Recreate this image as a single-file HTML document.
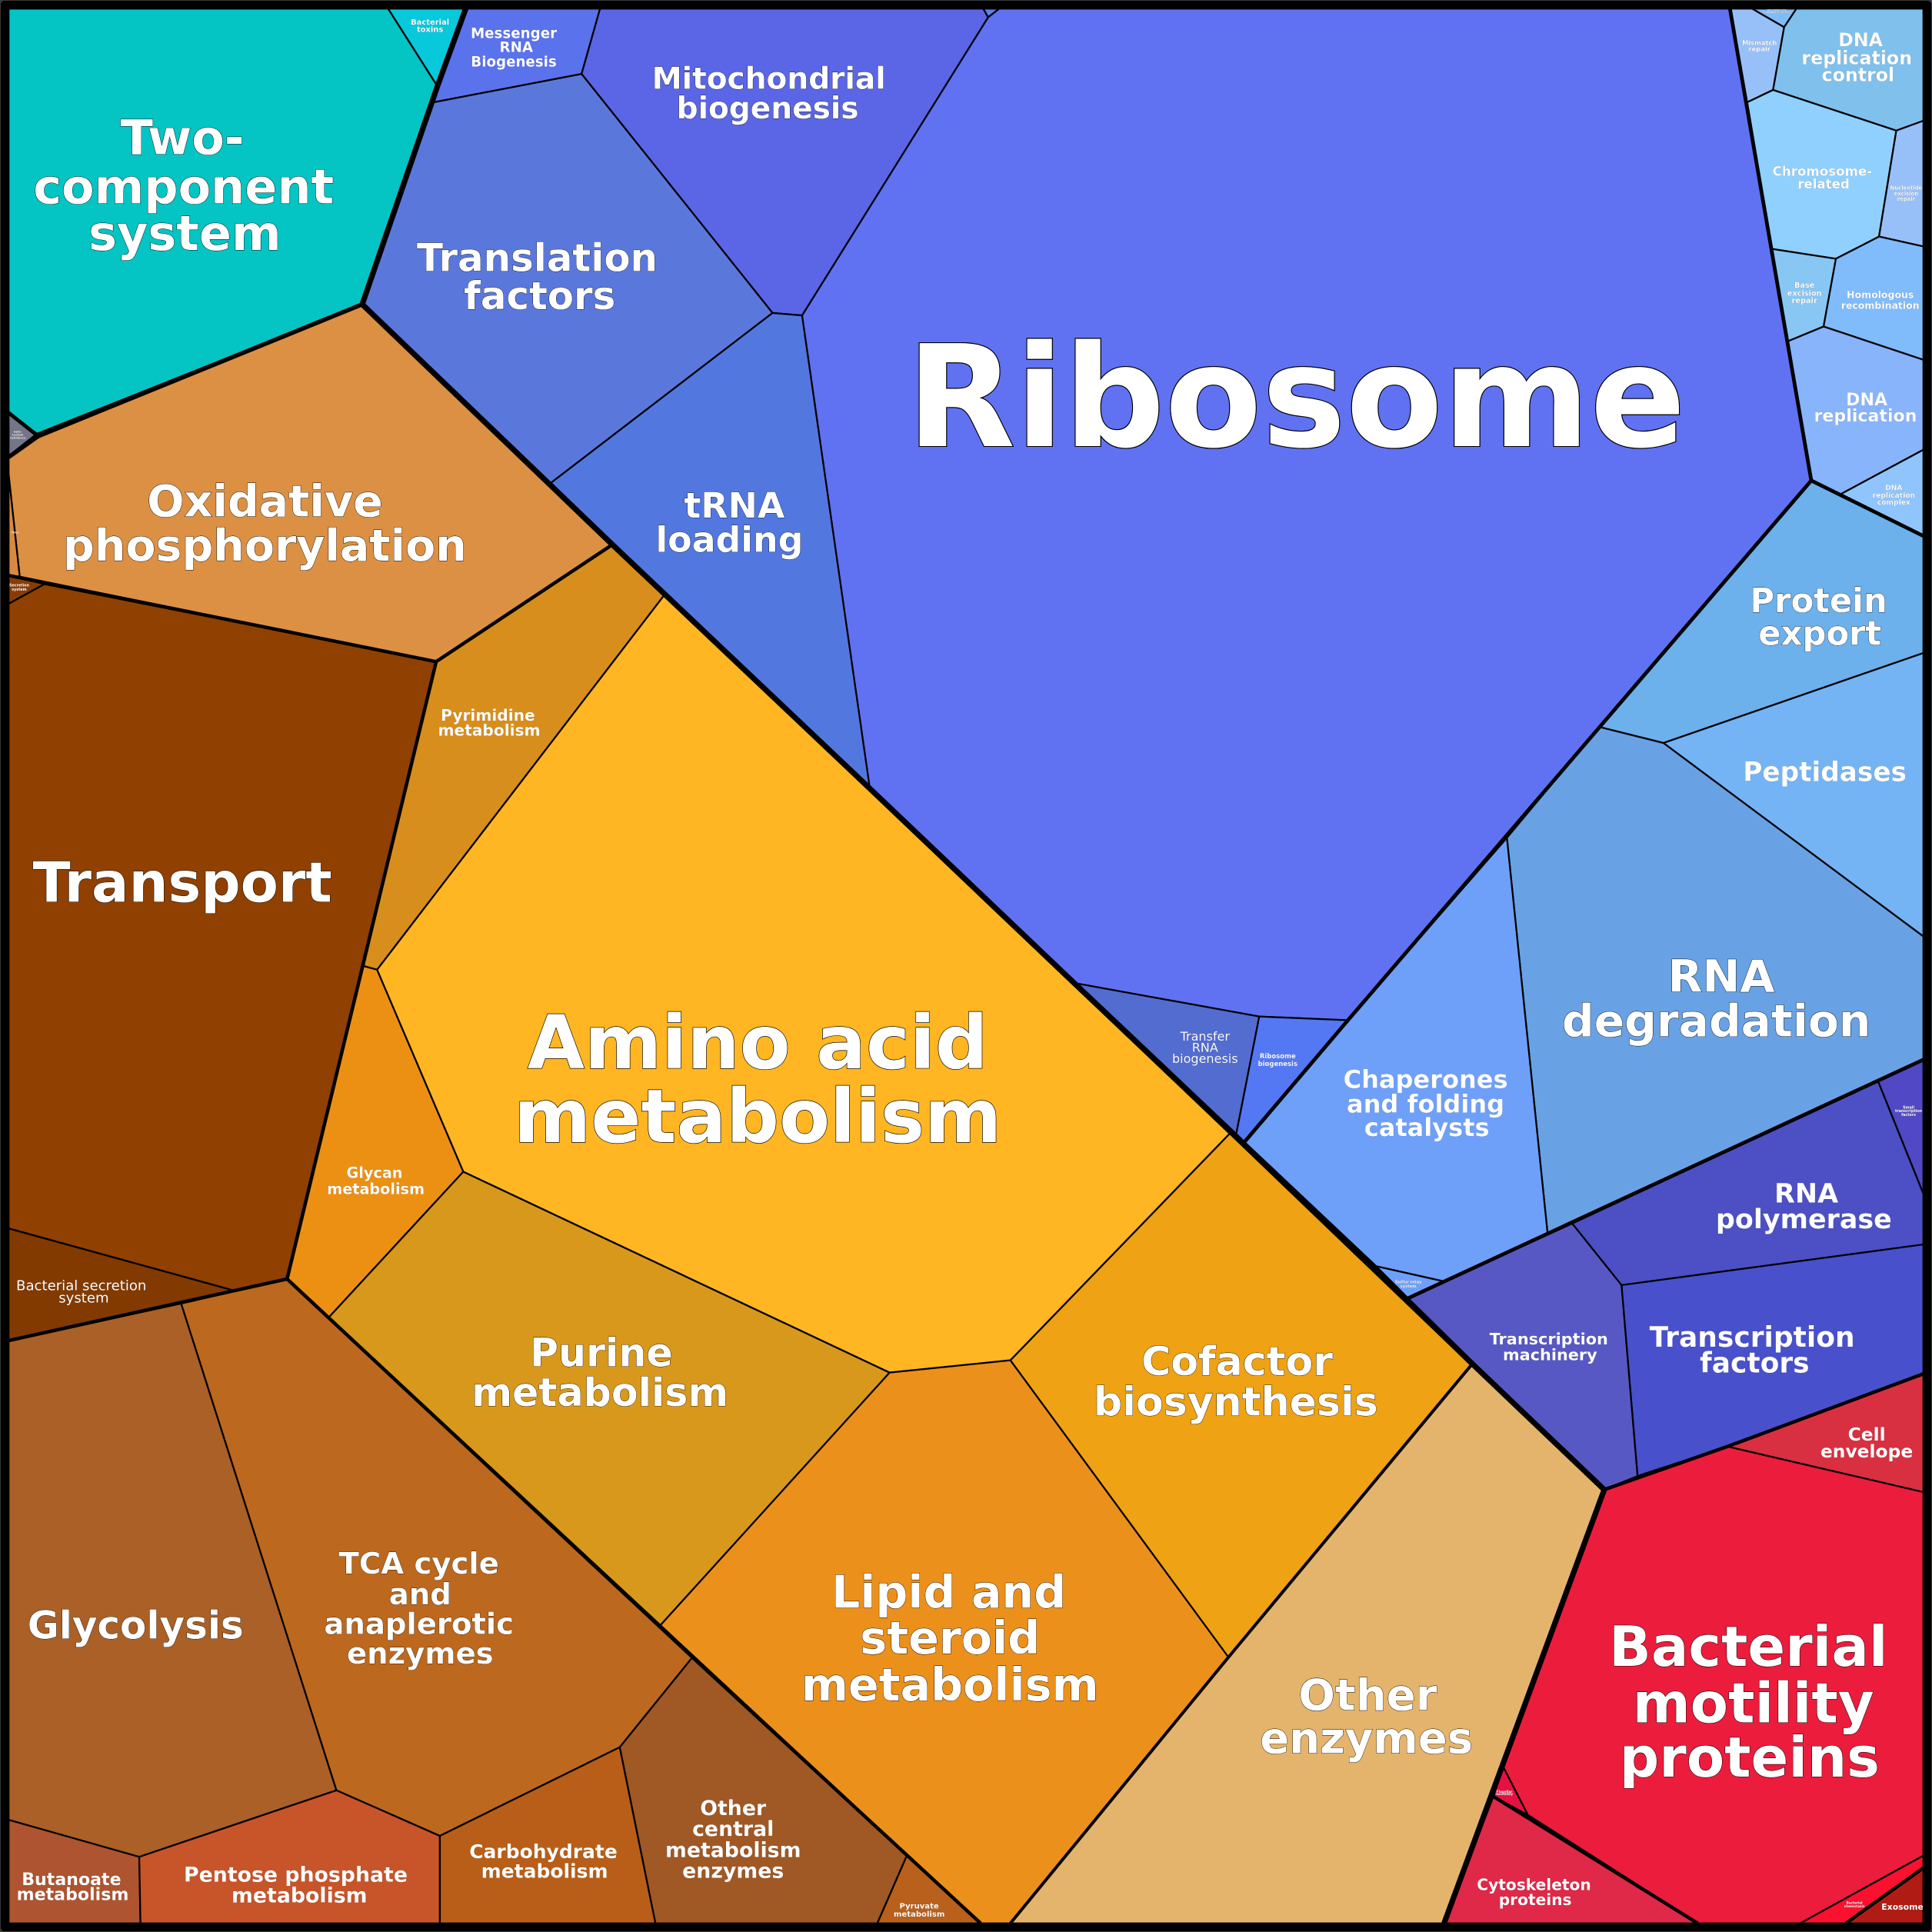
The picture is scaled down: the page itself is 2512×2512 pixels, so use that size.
<!DOCTYPE html>
<html lang="en"><head><meta charset="utf-8"><title>Proteomap</title>
<style>
html,body{margin:0;padding:0;background:#3a3a3a;width:2512px;height:2512px;overflow:hidden}
svg{display:block;width:2512px;height:2512px}
.c polygon{stroke:#000;stroke-width:1.4;stroke-linejoin:round}
.l polyline{fill:none;stroke:#000;stroke-linejoin:round;stroke-linecap:butt}
text{font-family:"DejaVu Sans","Liberation Sans",sans-serif;font-weight:700;fill:#fff;text-anchor:middle}
.t1 text{stroke:#000;stroke-width:.012em;paint-order:stroke}
.t1{filter:drop-shadow(.7px .7px 0 #000)}
.t2{filter:drop-shadow(.6px .6px 0 #000)}
.t3{filter:drop-shadow(.45px .45px 0 #000)}
.t4{filter:drop-shadow(.2px .2px 0 #000)}
.r{font-weight:400}
</style></head><body>
<svg xmlns="http://www.w3.org/2000/svg" viewBox="0 0 1568 1568">
<g class="c">
<polygon fill="#04c4c4" points="7,7 315,7 355,70 294,247 30,352 7,335"/>
<polygon fill="#08c8dc" points="315,7 378,7 355,70"/>
<polygon fill="#75758a" points="7,335 30,352 7,370"/>
<polygon fill="#5a72ec" points="378,7 487,7 472,60 352,83"/>
<polygon fill="#5a66e6" points="487,7 798,7 802,14 651,256 627,254 472,60"/>
<polygon fill="#5a80f0" points="798,7 811,7 802,14"/>
<polygon fill="#5a78dc" points="352,83 472,60 627,254 447,392 294,247"/>
<polygon fill="#5278e0" points="627,254 651,256 706,640 447,392"/>
<polygon fill="#6072f2" points="802,14 811,7 1404,7 1470,390 1094,828 1022,825 873,798 706,640 651,256"/>
<polygon fill="#526cd0" points="873,798 1022,825 1003,922"/>
<polygon fill="#5478f4" points="1022,825 1094,828 1009,928 1003,922"/>
<polygon fill="#98c0f8" points="1404,7 1422,7 1448,22 1439,73 1418,83"/>
<polygon fill="#80bcf8" points="1422,7 1458,7 1448,22"/>
<polygon fill="#80c0ec" points="1458,7 1561,7 1561,98 1539,106 1439,73 1448,22"/>
<polygon fill="#90d0fe" points="1418,83 1439,73 1539,106 1525,192 1490,210 1438,202"/>
<polygon fill="#98c0f8" points="1539,106 1561,98 1561,200 1525,192"/>
<polygon fill="#88c6f4" points="1438,202 1490,210 1480,265 1451,277"/>
<polygon fill="#80bcfc" points="1490,210 1525,192 1561,200 1561,292 1480,265"/>
<polygon fill="#88b4fc" points="1451,277 1480,265 1561,292 1561,365 1494,401 1470,390"/>
<polygon fill="#90c4fc" points="1494,401 1561,365 1561,435"/>
<polygon fill="#6cb0ec" points="1470,390 1561,435 1561,530 1350,603 1298,590"/>
<polygon fill="#74b4f4" points="1350,603 1561,530 1561,760"/>
<polygon fill="#68a2e4" points="1298,590 1350,603 1561,760 1561,860 1524,877 1276,993 1256,1001 1223,680"/>
<polygon fill="#6ea0fa" points="1223,680 1256,1001 1172,1040 1114,1027 1009,928 1094,828"/>
<polygon fill="#6ea0fa" points="1114,1027 1172,1040 1142,1054"/>
<polygon fill="#5048c4" points="1524,877 1561,860 1561,969"/>
<polygon fill="#4c50c4" points="1276,993 1524,877 1561,969 1561,1010 1316,1043"/>
<polygon fill="#4850cc" points="1316,1043 1561,1010 1561,1115 1402,1174 1329,1198"/>
<polygon fill="#5858c4" points="1142,1054 1276,993 1316,1043 1329,1198 1302,1209 1194,1108"/>
<polygon fill="#d83040" points="1402,1174 1561,1115 1561,1211"/>
<polygon fill="#ec1c3c" points="1302,1209 1329,1198 1402,1174 1561,1211 1561,1506 1461,1561 1378,1561 1240,1473 1220,1434"/>
<polygon fill="#e81040" points="1220,1434 1240,1473 1212,1458"/>
<polygon fill="#e02848" points="1212,1458 1240,1473 1378,1561 1172,1561"/>
<polygon fill="#fc1030" points="1561,1506 1561,1516 1498,1561 1461,1561"/>
<polygon fill="#b01c14" points="1561,1516 1561,1561 1498,1561"/>
<polygon fill="#e4b46c" points="1194,1108 1302,1209 1172,1561 820,1561 997,1345"/>
<polygon fill="#eea214" points="998,920 1194,1108 997,1345 820,1104"/>
<polygon fill="#ffb622" points="539,483 998,920 820,1104 722,1114 376,951 306,787"/>
<polygon fill="#d88e1c" points="497,442 539,483 306,787 295,784 354,537"/>
<polygon fill="#dc9044" points="31,354 294,247 497,442 354,537 16,468 7,385 7,371"/>
<polygon fill="#d88840" points="7,385 16,468 7,467"/>
<polygon fill="#904000" points="36,474 354,537 295,784 233,1038 192,1048 7,997 7,490"/>
<polygon fill="#8a3c04" points="7,467 36,474 7,490"/>
<polygon fill="#823a00" points="7,997 192,1048 7,1088"/>
<polygon fill="#ec9014" points="295,784 306,787 376,951 267,1069 233,1038"/>
<polygon fill="#d8981c" points="376,951 722,1114 536,1319 267,1069"/>
<polygon fill="#ec901c" points="722,1114 820,1104 997,1345 820,1561 796,1561 536,1319"/>
<polygon fill="#bc681e" points="147,1058 233,1038 562,1345 503,1418 357,1490 273,1453"/>
<polygon fill="#aa6026" points="7,1088 147,1058 273,1453 113,1507 7,1477"/>
<polygon fill="#ae5430" points="7,1477 113,1507 114,1561 7,1561"/>
<polygon fill="#c8542a" points="113,1507 273,1453 357,1490 357,1561 114,1561"/>
<polygon fill="#b85e18" points="357,1490 503,1418 532,1561 357,1561"/>
<polygon fill="#a05824" points="503,1418 562,1345 736,1506 712,1561 532,1561"/>
<polygon fill="#b8601c" points="736,1506 796,1561 712,1561"/>
</g>
<g class="l">
<polyline stroke-width="4.5" points="378,7 355,70 294,247 497,442 706,640 873,799 1003,922 1009,928 1114,1027 1141,1054 1194,1106 1302,1209 1172,1561"/>
<polyline stroke-width="3.5" points="294,247 31,354 7,371"/>
<polyline stroke-width="3" points="7,335 31,354"/>
<polyline stroke-width="3" points="1404,7 1470,390 1094,828 1009,928"/>
<polyline stroke-width="3" points="1470,390 1561,435"/>
<polyline stroke-width="3" points="1142,1054 1561,860"/>
<polyline stroke-width="2.8" points="1302,1209 1402,1174 1561,1115"/>
<polyline stroke-width="2.8" points="497,442 354,537 7,467"/>
<polyline stroke-width="2.8" points="354,537 233,1038 7,1088"/>
<polyline stroke-width="2.8" points="233,1038 562,1345 796,1561"/>
<polyline stroke-width="2.5" points="1194,1108 997,1345 820,1561"/>
<polyline stroke-width="2.8" points="1212,1458 1378,1561"/>
<polyline stroke-width="2.8" points="1561,1516 1498,1561"/>
</g>
<g class="t1">
<text font-size="114.6" x="1052" y="362">Ribosome</text>
<text font-size="60"><tspan x="615" y="867">Amino acid</tspan><tspan x="615" y="927">metabolism</tspan></text>
<text font-size="44.9"><tspan x="1419" y="1352">Bacterial</tspan><tspan x="1423" y="1398">motility</tspan><tspan x="1420" y="1442">proteins</tspan></text>
<text font-size="44.8" x="148" y="732">Transport</text>
<text font-size="38.7"><tspan x="148" y="125">Two-</tspan><tspan x="149" y="165">component</tspan><tspan x="150" y="203">system</tspan></text>
<text font-size="36.6"><tspan x="770" y="1305">Lipid and</tspan><tspan x="771" y="1342">steroid</tspan><tspan x="771" y="1380">metabolism</tspan></text>
<text font-size="36.4"><tspan x="1397" y="805">RNA</tspan><tspan x="1393" y="841">degradation</tspan></text>
<text font-size="35.6"><tspan x="215" y="419">Oxidative</tspan><tspan x="215" y="455">phosphorylation</tspan></text>
<text font-size="35"><tspan x="1110" y="1388">Other</tspan><tspan x="1109" y="1423">enzymes</tspan></text>
<text font-size="32.5"><tspan x="1004" y="1116">Cofactor</tspan><tspan x="1003" y="1149">biosynthesis</tspan></text>
<text font-size="31.6"><tspan x="488" y="1109">Purine</tspan><tspan x="487" y="1141">metabolism</tspan></text>
<text font-size="31.2" x="110" y="1330">Glycolysis</text>
<text font-size="31.1"><tspan x="436" y="220">Translation</tspan><tspan x="438" y="251">factors</tspan></text>
<text font-size="28.6"><tspan x="596" y="420">tRNA</tspan><tspan x="592" y="448">loading</tspan></text>
<text font-size="27"><tspan x="1476" y="497">Protein</tspan><tspan x="1477" y="523.5">export</tspan></text>
<text font-size="24.4"><tspan x="624" y="72">Mitochondrial</tspan><tspan x="623" y="96">biogenesis</tspan></text>
<text font-size="24.1"><tspan x="340" y="1277">TCA cycle</tspan><tspan x="341" y="1302">and</tspan><tspan x="340" y="1326">anaplerotic</tspan><tspan x="341" y="1350">enzymes</tspan></text>
</g>
<g class="t2">
<text font-size="21.4" x="1481" y="634">Peptidases</text>
<text font-size="22.5"><tspan x="1422" y="1093">Transcription</tspan><tspan x="1424" y="1114">factors</tspan></text>
<text font-size="21.8"><tspan x="1466" y="976">RNA</tspan><tspan x="1464" y="997">polymerase</tspan></text>
<text font-size="20"><tspan x="1157" y="883">Chaperones</tspan><tspan x="1157" y="903">and folding</tspan><tspan x="1158" y="922">catalysts</tspan></text>
<text font-size="16.7"><tspan x="240" y="1527">Pentose phosphate</tspan><tspan x="243" y="1544">metabolism</tspan></text>
<text font-size="16.7"><tspan x="595" y="1473">Other</tspan><tspan x="595" y="1490">central</tspan><tspan x="595" y="1507">metabolism</tspan><tspan x="595" y="1524">enzymes</tspan></text>
<text font-size="15.6"><tspan x="441" y="1508">Carbohydrate</tspan><tspan x="442" y="1524">metabolism</tspan></text>
<text font-size="14.8"><tspan x="1510" y="37.5">DNA</tspan><tspan x="1507" y="52">replication</tspan><tspan x="1508" y="66">control</tspan></text>
<text font-size="14.6"><tspan x="1515" y="1169">Cell</tspan><tspan x="1515" y="1183">envelope</tspan></text>
<text font-size="13.8"><tspan x="1515" y="329">DNA</tspan><tspan x="1514" y="342">replication</tspan></text>
<text font-size="13.8"><tspan x="58" y="1530">Butanoate</tspan><tspan x="59" y="1542">metabolism</tspan></text>
<text font-size="13"><tspan x="1257" y="1091">Transcription</tspan><tspan x="1258" y="1104">machinery</tspan></text>
<text font-size="12.6"><tspan x="396" y="585">Pyrimidine</tspan><tspan x="397" y="597">metabolism</tspan></text>
<text font-size="12.6"><tspan x="1245" y="1534">Cytoskeleton</tspan><tspan x="1246" y="1546">proteins</tspan></text>
<text font-size="11.4"><tspan x="417" y="31">Messenger</tspan><tspan x="419" y="42">RNA</tspan><tspan x="417" y="54">Biogenesis</tspan></text>
<text font-size="12"><tspan x="304" y="956">Glycan</tspan><tspan x="305" y="969">metabolism</tspan></text>
<text font-size="10.4"><tspan x="1479" y="142.5">Chromosome-</tspan><tspan x="1480" y="153">related</tspan></text>
<text class="r" font-size="11.3"><tspan x="66" y="1047">Bacterial secretion</tspan><tspan x="68" y="1057">system</tspan></text>
<text class="r" font-size="10"><tspan x="978" y="844.6">Transfer</tspan><tspan x="978" y="853.5">RNA</tspan><tspan x="978" y="862.7">biogenesis</tspan></text>
</g>
<g class="t3">
<text font-size="7.8"><tspan x="1526" y="242">Homologous</tspan><tspan x="1526" y="250.5">recombination</tspan></text>
<text font-size="6.8" x="1544" y="1550">Exosome</text>
<text font-size="6.3"><tspan x="746" y="1549">Pyruvate</tspan><tspan x="746" y="1555.5">metabolism</tspan></text>
<text font-size="6.2"><tspan x="349" y="20">Bacterial</tspan><tspan x="349" y="26">toxins</tspan></text>
<text font-size="6.1"><tspan x="1464.5" y="233.5">Base</tspan><tspan x="1464.5" y="240">excision</tspan><tspan x="1464.5" y="246">repair</tspan></text>
<text font-size="5.2"><tspan x="1428" y="36.4">Mismatch</tspan><tspan x="1428" y="41.6">repair</tspan></text>
<text font-size="5.7"><tspan x="1537" y="397.5">DNA</tspan><tspan x="1537" y="404">replication</tspan><tspan x="1537" y="409.5">complex</tspan></text>
<text font-size="5.3"><tspan x="1037" y="859">Ribosome</tspan><tspan x="1037" y="865">biogenesis</tspan></text>
</g>
<g class="t4">
<text font-size="4.3"><tspan x="1547" y="154">Nucleotide</tspan><tspan x="1547" y="158.6">excision</tspan><tspan x="1547" y="163">repair</tspan></text>
<text font-size="3.3"><tspan x="1143" y="1041.5">Sulfur relay</tspan><tspan x="1143" y="1045">system</tspan></text>
<text font-size="3"><tspan x="1549" y="899.7">Small</tspan><tspan x="1549" y="902.7">transcription</tspan><tspan x="1549" y="905.8">factors</tspan></text>
<text font-size="3"><tspan x="15.6" y="476">Secretion</tspan><tspan x="15.6" y="479.5">system</tspan></text>
<text font-size="2.6"><tspan x="1505" y="1545.3">Bacterial</tspan><tspan x="1505" y="1548">chemotaxis</tspan></text>
<text font-size="2.6"><tspan x="1221" y="1455">Flagellar</tspan><tspan x="1221" y="1457">assembly</tspan></text>
<text font-size="2.2"><tspan x="14.5" y="351">beta-</tspan><tspan x="14.5" y="353.5">Lactam</tspan><tspan x="14.5" y="356">resistance</tspan></text>
<text font-size="2" x="12" y="433">Other</text>
<text font-size="1.8"><tspan x="1442" y="8.5">DNA repair and</tspan><tspan x="1442" y="10.2">recombination proteins</tspan></text>
</g>
<path fill="#000" fill-rule="evenodd" d="M4,.6H1564Q1567.4,.6 1567.4,4V1564Q1567.4,1567.4 1564,1567.4H4Q.6,1567.4 .6,1564V4Q.6,.6 4,.6ZM7.5,7.5V1560.5H1560.5V7.5Z"/>
</svg>
</body></html>
